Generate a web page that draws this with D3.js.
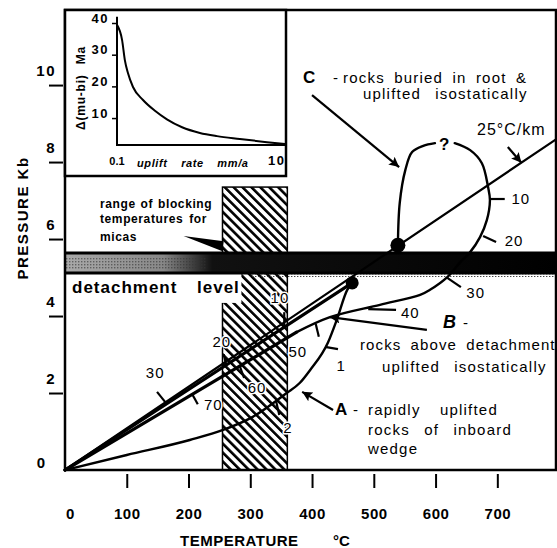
<!DOCTYPE html>
<html>
<head>
<meta charset="utf-8">
<script src="https://cdn.jsdelivr.net/npm/d3@7"></script>
<style>
  body { margin: 0; background: #fff; }
  svg { display: block; font-family: 'Liberation Sans', Arial, sans-serif; }
</style>
</head>
<body>
<svg id="chart" width="557" height="548"></svg>
<script>
// axis ticks
const tempTicks = [0, 100, 200, 300, 400, 500, 600, 700]
const pressTicks = [2, 4, 6, 8, 10]

// 25 C/km geotherm
const geothermT = [0, 795]
const geothermP = [0, 8.59]

// path A - rapidly uplifted rocks of inboard wedge
const pathAT = [0, 100, 202, 256, 304, 359, 380, 397, 426, 440, 457, 465]
const pathAP = [0, 0.39, 0.78, 1.04, 1.38, 2.0, 2.26, 2.6, 3.32, 3.9, 4.68, 4.86]

// path B - rocks above detachment, straight back to surface
const pathBT = [465, 0]
const pathBP = [4.86, 0]

// path C - loop through the root, broken at the "?"
const pathCLeftT = [539, 542, 551, 562, 580, 599]
const pathCLeftP = [5.84, 6.94, 7.79, 8.26, 8.42, 8.49]
const pathCRightT = [631, 656, 675, 685, 688, 683, 672, 656, 640, 619, 591, 575, 510, 429, 375]
const pathCRightP = [8.49, 8.31, 7.97, 7.35, 7.01, 6.49, 6.05, 5.66, 5.40, 5.01, 4.68, 4.55, 4.29, 3.97, 3.58]
const pathCReturnT = [375, 0]
const pathCReturnP = [3.58, 0]

// peak points (big dots)
const peakNames = ['C', 'B']
const peakT = [539, 465]
const peakP = [5.84, 4.86]

// blocking temperature range for micas, detachment level
const blockingT = [255, 360]
const blockingTopP = 7.35
const detachP = [5.12, 5.64]

// time marks (Ma) along the paths: point on path, end of tick, label
const tickLabels = ['10', '20', '30', '40', '50', '60', '70', '10', '20', '30', '1', '2']
const tickOnT = [688, 677, 619, 491, 406, 283, 206, 355, 261, 165, 421, 342]
const tickOnP = [7.04, 6.08, 4.99, 4.18, 3.79, 2.70, 1.97, 3.74, 2.73, 1.71, 3.20, 1.77]
const tickEndT = [712, 698, 641, 536, 411, 290, 215, 355, 257, 149, 442, 347]
const tickEndP = [7.04, 5.92, 4.75, 4.16, 3.46, 2.39, 1.71, 4.10, 3.01, 2.03, 3.14, 1.43]
const tickLabT = [738, 727, 665, 559, 377, 311, 240, 348, 254, 146, 447, 361]
const tickLabP = [7.04, 5.95, 4.62, 4.10, 3.07, 2.13, 1.69, 4.49, 3.33, 2.52, 2.70, 1.09]

// inset: age difference muscovite-biotite vs uplift rate
const insetRate = [0.1, 0.115, 0.124, 0.135, 0.155, 0.204, 0.283, 0.393, 0.595, 0.97, 1.55, 2.9, 6.1, 10]
const insetDelta = [39.4, 34.6, 28.3, 24.2, 19.8, 15.7, 12.3, 9.6, 7.1, 5.3, 4.3, 3.4, 2.4, 1.8]
const insetTicks = [10, 20, 30, 40]

const svg = d3.select('#chart')
const defs = svg.append('defs')

const x = d3.scaleLinear().domain([0, 795]).range([65, 556])
const y = d3.scaleLinear().domain([0, 11.95]).range([470, 10])

// hatch pattern
defs.append('pattern')
  .attr('id', 'hatch')
  .attr('patternUnits', 'userSpaceOnUse')
  .attr('width', 6.3).attr('height', 6.3)
  .attr('patternTransform', 'rotate(-45)')
  .append('rect')
  .attr('width', 2.6).attr('height', 6.3)
  .attr('fill', '#000')

// stipple pattern
const stip = defs.append('pattern')
  .attr('id', 'stipple')
  .attr('patternUnits', 'userSpaceOnUse')
  .attr('width', 3).attr('height', 3)
stip.append('rect').attr('width', 1.4).attr('height', 1.4).attr('fill', '#333')

const grad = defs.append('linearGradient')
  .attr('id', 'band')
  .attr('gradientUnits', 'userSpaceOnUse')
  .attr('x1', 65).attr('x2', 556).attr('y1', 0).attr('y2', 0)
grad.append('stop').attr('offset', 0).attr('stop-color', '#aaa')
grad.append('stop').attr('offset', 0.2).attr('stop-color', '#888')
grad.append('stop').attr('offset', 0.3).attr('stop-color', '#111')
grad.append('stop').attr('offset', 1).attr('stop-color', '#000')

defs.append('marker')
  .attr('id', 'arrow')
  .attr('viewBox', '0 0 10 10')
  .attr('refX', 10).attr('refY', 5)
  .attr('markerUnits', 'userSpaceOnUse')
  .attr('markerWidth', 13).attr('markerHeight', 10)
  .attr('orient', 'auto')
  .append('path')
  .attr('d', 'M0,0 L10,5 L0,10 L2,5 Z')
  .attr('fill', '#000')

// blocking temperature range
svg.append('rect')
  .attr('x', x(blockingT[0]))
  .attr('y', y(blockingTopP))
  .attr('width', x(blockingT[1]) - x(blockingT[0]))
  .attr('height', y(0) - y(blockingTopP))
  .attr('fill', 'url(#hatch)')
  .attr('stroke', '#000')
  .attr('stroke-width', 1.5)

// white box behind "detachment level"
svg.append('rect')
  .attr('x', x(0) + 1).attr('y', y(detachP[0]))
  .attr('width', x(284) - x(0)).attr('height', 30)
  .attr('fill', '#fff')

// detachment band
svg.append('rect')
  .attr('x', x(0)).attr('y', y(detachP[1]))
  .attr('width', x(795) - x(0))
  .attr('height', y(detachP[0]) - y(detachP[1]))
  .attr('fill', 'url(#band)')
svg.append('rect')
  .attr('x', x(0)).attr('y', y(detachP[1]) + 4)
  .attr('width', x(230) - x(0))
  .attr('height', y(detachP[0]) - y(detachP[1]) - 7)
  .attr('fill', 'url(#stipple)').attr('opacity', 0.6)
svg.append('rect')
  .attr('x', x(300)).attr('y', y(detachP[0]))
  .attr('width', x(795) - x(300)).attr('height', 4)
  .attr('fill', 'url(#stipple)')
svg.selectAll('.bandedge')
  .data(detachP)
  .enter().append('line')
  .attr('x1', x(0)).attr('x2', x(795))
  .attr('y1', d => y(d)).attr('y2', d => y(d))
  .attr('stroke', '#000').attr('stroke-width', 3)

// frame
svg.append('rect')
  .attr('x', x(0)).attr('y', y(11.95))
  .attr('width', x(795) - x(0)).attr('height', y(0) - y(11.95))
  .attr('fill', 'none').attr('stroke', '#000').attr('stroke-width', 2.5)

// axes
const xAxis = svg.append('g')
  .attr('transform', `translate(0,${y(0) + 4})`)
  .call(d3.axisBottom(x).tickValues(tempTicks).tickSize(14).tickPadding(20).tickFormat(d3.format('d')))
xAxis.select('.domain').remove()
xAxis.selectAll('line').attr('stroke-width', 2).attr('opacity', d => d === 0 ? 0 : 1)
xAxis.selectAll('text')
  .attr('font-size', 15).attr('font-weight', 'bold')
  .attr('font-family', "'Liberation Sans', Arial, sans-serif")
  .attr('letter-spacing', 0.5)
  .attr('dx', d => d === 0 ? 5 : 0)

const yAxis = svg.append('g')
  .attr('transform', `translate(${x(0) - 2},0)`)
  .call(d3.axisLeft(y).tickValues(pressTicks).tickSize(14).tickPadding(-7))
yAxis.select('.domain').remove()
yAxis.selectAll('line').attr('stroke-width', 2)
yAxis.selectAll('text')
  .attr('font-size', 15).attr('font-weight', 'bold')
  .attr('font-family', "'Liberation Sans', Arial, sans-serif")
  .attr('letter-spacing', 1.5)
  .attr('dy', -10)
svg.append('text')
  .attr('x', x(0) - 24).attr('y', y(0) - 2)
  .attr('text-anchor', 'middle')
  .attr('font-size', 15).attr('font-weight', 'bold')
  .text('0')

svg.append('text')
  .attr('x', 180).attr('y', 546)
  .attr('font-size', 15).attr('font-weight', 'bold').attr('letter-spacing', 0.5)
  .text('TEMPERATURE')
svg.append('text')
  .attr('x', 333).attr('y', 546)
  .attr('font-size', 15).attr('font-weight', 'bold')
  .text('°C')
svg.append('text')
  .attr('transform', 'translate(28,218) rotate(-90)')
  .attr('text-anchor', 'middle')
  .attr('font-size', 15).attr('font-weight', 'bold').attr('letter-spacing', 1.5)
  .text('PRESSURE Kb')

// curves
const line = d3.line().x(d => x(d[0])).y(d => y(d[1]))
const drawPath = (T, P, width, curve) => svg.append('path')
  .attr('d', line.curve(curve)(d3.zip(T, P)))
  .attr('fill', 'none').attr('stroke', '#000')
  .attr('stroke-width', width)
  .attr('stroke-linejoin', 'round').attr('stroke-linecap', 'round')

drawPath(geothermT, geothermP, 2.2, d3.curveLinear)
drawPath(pathAT, pathAP, 2.4, d3.curveMonotoneX)
drawPath(pathBT, pathBP, 3.2, d3.curveLinear)
drawPath(pathCLeftT, pathCLeftP, 2.4, d3.curveCatmullRom)
drawPath(pathCRightT, pathCRightP, 2.4, d3.curveCatmullRom)
drawPath(pathCReturnT, pathCReturnP, 3.2, d3.curveLinear)

// time marks
tickLabels.forEach((lab, i) => {
  svg.append('line')
    .attr('x1', x(tickOnT[i])).attr('y1', y(tickOnP[i]))
    .attr('x2', x(tickEndT[i])).attr('y2', y(tickEndP[i]))
    .attr('stroke', '#000').attr('stroke-width', 2.2)
  svg.append('text')
    .attr('x', x(tickLabT[i])).attr('y', y(tickLabP[i]))
    .attr('dy', '0.36em')
    .attr('text-anchor', 'middle')
    .attr('font-size', 15).attr('letter-spacing', 1)
    .attr('stroke', '#fff').attr('stroke-width', 3).attr('paint-order', 'stroke')
    .text(lab)
})

// peak dots
svg.selectAll('.peak')
  .data(d3.zip(peakT, peakP, peakNames))
  .enter().append('circle')
  .attr('cx', d => x(d[0])).attr('cy', d => y(d[1]))
  .attr('r', d => d[2] === 'C' ? 7.5 : 6.5)
  .attr('fill', '#000')

// annotation arrows
const arrow = (t1, p1, t2, p2) => svg.append('line')
  .attr('x1', x(t1)).attr('y1', y(p1)).attr('x2', x(t2)).attr('y2', y(p2))
  .attr('stroke', '#000').attr('stroke-width', 2.2)
  .attr('marker-end', 'url(#arrow)')
arrow(400, 9.74, 541, 7.87)
arrow(717, 8.39, 739, 7.98)
arrow(586, 3.64, 429, 3.97)
arrow(434, 1.56, 384, 2.03)
svg.append('path')
  .attr('d', line.curve(d3.curveLinear)([[192, 6.08], [257, 5.94], [254, 5.69]]) + 'Z')
  .attr('fill', '#000')

// annotation texts
const txt = (s, px, py, opts = {}) => svg.append('text')
  .attr('x', px).attr('y', py)
  .attr('font-size', opts.size || 15)
  .attr('font-weight', opts.weight || 'normal')
  .attr('font-style', opts.style || 'normal')
  .attr('letter-spacing', opts.ls === undefined ? 1.2 : opts.ls)
  .attr('word-spacing', opts.ws === undefined ? 4 : opts.ws)
  .attr('text-anchor', opts.anchor || 'start')
  .text(s)

txt('C', 303, 83, { size: 17, weight: 'bold', ls: 0 })
txt('-', 333, 83)
txt('rocks buried in root &', 343, 83)
txt('uplifted isostatically', 363, 99, { ws: 9 })
txt('25°C/km', 477, 135, { size: 16, ls: 1 })
txt('?', x(614), 150, { size: 17, weight: 'bold', anchor: 'middle', ls: 0 })
txt('B', 443, 328, { size: 18, weight: 'bold', style: 'italic', ls: 0 })
txt('-', 463, 328)
txt('rocks above detachment', 360, 350, { ls: 1.1 })
txt('uplifted isostatically', 382, 372, { ws: 9 })
txt('A', 335, 415, { size: 17, weight: 'bold', ls: 0 })
txt('-', 353, 415)
txt('rapidly uplifted', 368, 415, { ws: 14 })
txt('rocks of inboard', 368, 435, { ws: 9 })
txt('wedge', 368, 454)
txt('range of blocking', 100, 208, { size: 12, weight: 'bold', ls: 0.6, ws: 1 })
txt('temperatures for', 100, 223, { size: 12, weight: 'bold', ls: 0.6, ws: 2 })
txt('micas', 100, 241, { size: 12, weight: 'bold', ls: 0.6 })
txt('detachment', 72, 293, { size: 17, weight: 'bold', ls: 1 })
txt('level', 197, 293, { size: 17, weight: 'bold', ls: 1 })

// inset
const inset = svg.append('g')
inset.append('rect')
  .attr('x', x(0)).attr('y', y(11.95))
  .attr('width', 286 - x(0)).attr('height', 176 - y(11.95))
  .attr('fill', '#fff').attr('stroke', '#000').attr('stroke-width', 2.5)
const xi = d3.scaleLog().domain([0.1, 10]).range([117, 285])
const yi = d3.scaleLinear().domain([1.5, 40]).range([145, 23])
inset.append('path')
  .attr('d', `M${xi(0.1)},${yi(42)} V${yi(1.5)} H${xi(10)}`)
  .attr('fill', 'none').attr('stroke', '#000').attr('stroke-width', 2)
const yiAxis = inset.append('g')
  .attr('transform', `translate(${xi(0.1)},0)`)
  .call(d3.axisLeft(yi).tickValues(insetTicks).tickSize(5).tickPadding(3))
yiAxis.select('.domain').remove()
yiAxis.selectAll('line').attr('stroke-width', 1.5)
yiAxis.selectAll('text')
  .attr('font-size', 13).attr('font-weight', 'bold')
  .attr('font-family', "'Liberation Sans', Arial, sans-serif")
  .attr('letter-spacing', 1.5).attr('dy', -1)
inset.append('path')
  .attr('d', d3.line().x(d => xi(d[0])).y(d => yi(d[1])).curve(d3.curveMonotoneX)(d3.zip(insetRate, insetDelta)))
  .attr('fill', 'none').attr('stroke', '#000').attr('stroke-width', 2)
inset.append('text').attr('x', xi(0.1)).attr('y', 165)
  .attr('text-anchor', 'middle').attr('font-size', 11).attr('font-weight', 'bold')
  .text('0.1')
inset.append('text').attr('x', 137).attr('y', 167)
  .attr('font-size', 11).attr('font-weight', 'bold').attr('font-style', 'italic')
  .attr('letter-spacing', 0.6).attr('word-spacing', 10)
  .text('uplift rate mm/a')
inset.append('text').attr('x', 268).attr('y', 165)
  .attr('font-size', 13).attr('font-weight', 'bold').attr('letter-spacing', 1.5)
  .text('10')
inset.append('text')
  .attr('transform', 'translate(85,88) rotate(-90)')
  .attr('text-anchor', 'middle')
  .attr('font-size', 12).attr('font-weight', 'bold').attr('letter-spacing', 0.8).attr('word-spacing', 6)
  .text('Δ(mu-bi) Ma')
</script>
</body>
</html>
